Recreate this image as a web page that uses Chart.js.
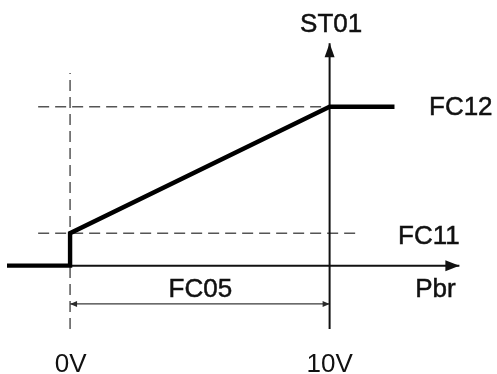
<!DOCTYPE html>
<html>
<head>
<meta charset="utf-8">
<script src="https://cdn.jsdelivr.net/npm/chart.js@4/dist/chart.umd.min.js"></script>
<style>
  html, body { margin: 0; padding: 0; background: #fff; }
  canvas { display: block; }
</style>
</head>
<body>
<canvas id="c" width="497" height="374"></canvas>
<script>
// Output levels of the ST01 characteristic (arbitrary output units)
const FC11 = 1.0;   // output at 0V
const FC12 = 4.9;   // output at 10V

// ST01 versus input Pbr (volts): off below 0V, jump to FC11, ramp to FC12 at 10V, then hold
const curveX = [-2.43, 0, 0, 10, 12.5];
const curveY = [0, 0, FC11, FC12, FC12];

// Axes: Pbr axis along output 0, ST01 axis standing at 10V
const pbrAxisX = [-2.43, 15.0];
const pbrAxisY = [0, 0];
const st01AxisX = [10, 10];
const st01AxisY = [-1.95, 6.86];

// Dashed reference lines
const fc12GuideX = [-1.23, 10];
const fc12GuideY = [FC12, FC12];
const fc11GuideX = [-1.23, 11.1];
const fc11GuideY = [FC11, FC11];
const zeroGuideX = [0, 0];
const zeroGuideY = [-1.95, 5.94];

// FC05 span: from 0V to 10V
const spanX = [0, 10];
const spanY = [-1.18, -1.18];

// Text labels and where they are anchored (volts, output units)
const labelTexts = ['ST01', 'FC12', 'FC11', 'Pbr', 'FC05', '0V', '10V'];
const labelX     = [10.06, 13.83, 12.64, 13.3, 5.02, 0.02, 10];
const labelY     = [7.21, 4.645, 0.669, -0.965, -0.965, -3.27, -3.27];
const labelAlign = ['center', 'left', 'left', 'left', 'center', 'center', 'center'];
const labelHeavy = [true, true, true, true, true, false, false];

const toPoints = (xs, ys) => xs.map((v, i) => ({ x: v, y: ys[i] }));

const dashStyle = {
  borderColor: '#555',
  borderWidth: 1.5,
  borderDash: [11, 6],
  order: 5
};

const datasets = [
  { data: toPoints(fc12GuideX, fc12GuideY), ...dashStyle },
  { data: toPoints(fc11GuideX, fc11GuideY), ...dashStyle },
  { data: toPoints(zeroGuideX, zeroGuideY), ...dashStyle },
  {
    data: toPoints(spanX, spanY),
    borderColor: '#3a3a3a', borderWidth: 1.3, order: 4,
    arrows: { start: [7, 3], end: [7, 3], color: '#2a2a2a' }
  },
  {
    data: toPoints(pbrAxisX, pbrAxisY),
    borderColor: '#111', borderWidth: 2, order: 3,
    arrows: { end: [14, 5.5], color: '#111' }
  },
  {
    data: toPoints(st01AxisX, st01AxisY),
    borderColor: '#111', borderWidth: 2, order: 3,
    arrows: { end: [14, 5], color: '#111' }
  },
  {
    data: toPoints(curveX, curveY),
    borderColor: '#000', borderWidth: 4.4, order: 1,
    borderJoinStyle: 'miter', borderCapStyle: 'butt'
  }
];

function arrowHead(ctx, tip, from, len, half, color) {
  const dx = tip.x - from.x, dy = tip.y - from.y;
  const d = Math.hypot(dx, dy) || 1;
  const ux = dx / d, uy = dy / d;
  const bx = tip.x - ux * len, by = tip.y - uy * len;
  ctx.beginPath();
  ctx.moveTo(tip.x, tip.y);
  ctx.lineTo(bx - uy * half, by + ux * half);
  ctx.lineTo(bx + uy * half, by - ux * half);
  ctx.closePath();
  ctx.fillStyle = color;
  ctx.fill();
}

const diagramOverlay = {
  id: 'diagramOverlay',
  afterDatasetsDraw(chart) {
    const { ctx, scales: { x, y } } = chart;
    ctx.save();
    chart.data.datasets.forEach((ds, i) => {
      if (!ds.arrows) return;
      const pts = chart.getDatasetMeta(i).data;
      const n = pts.length;
      if (ds.arrows.end) {
        arrowHead(ctx, pts[n - 1], pts[n - 2], ds.arrows.end[0], ds.arrows.end[1], ds.arrows.color);
      }
      if (ds.arrows.start) {
        arrowHead(ctx, pts[0], pts[1], ds.arrows.start[0], ds.arrows.start[1], ds.arrows.color);
      }
    });
    ctx.font = '26px "Liberation Sans", Arial, sans-serif';
    ctx.fillStyle = '#111';
    ctx.strokeStyle = '#111';
    ctx.lineWidth = 0.5;
    ctx.textBaseline = 'alphabetic';
    labelTexts.forEach((t, i) => {
      ctx.textAlign = labelAlign[i];
      const px = x.getPixelForValue(labelX[i]);
      const py = y.getPixelForValue(labelY[i]);
      ctx.fillText(t, px, py);
      if (labelHeavy[i]) ctx.strokeText(t, px, py);
    });
    ctx.restore();
  }
};

new Chart(document.getElementById('c'), {
  type: 'scatter',
  data: { datasets: datasets.map(d => ({ showLine: true, pointRadius: 0, tension: 0, ...d })) },
  options: {
    responsive: false,
    animation: false,
    devicePixelRatio: 1,
    layout: { padding: 0 },
    plugins: { legend: { display: false }, tooltip: { enabled: false } },
    scales: {
      x: { type: 'linear', min: -2.7, max: 16.45, display: false },
      y: { type: 'linear', min: -3.34, max: 8.19, display: false }
    }
  },
  plugins: [diagramOverlay]
});
</script>
</body>
</html>
